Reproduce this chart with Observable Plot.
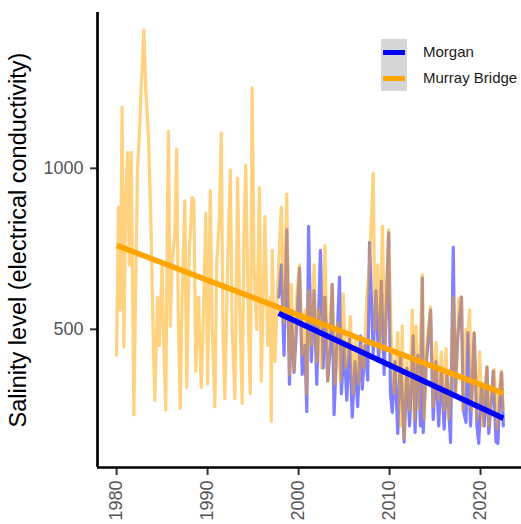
<!DOCTYPE html>
<html>
<head>
<meta charset="utf-8">
<script src="https://cdn.jsdelivr.net/npm/d3@7"></script>
<script src="https://cdn.jsdelivr.net/npm/@observablehq/plot@0.6"></script>
<style>
  html, body { margin: 0; padding: 0; background: #fff; }
  #wrap { position: relative; width: 521px; height: 524px; font-family: "Liberation Sans", Arial, sans-serif; }
  #legend { position: absolute; left: 381px; top: 39px; }
  .keybg { position: absolute; left: 0; top: 0; width: 26px; height: 52px; background: #d6d6d6; }
  .key { position: absolute; left: 2px; width: 22px; height: 5px; }
  .lab { position: absolute; left: 42px; font-size: 15px; color: #1a1a1a; white-space: nowrap; line-height: 15px; }
</style>
</head>
<body>
<div id="wrap">
  <div id="chart"></div>
  <div id="legend">
    <div class="keybg"></div>
    <div class="key" style="top:11px;background:#0000ff"></div>
    <div class="key" style="top:37px;background:#ffa500"></div>
    <div class="lab" style="top:5px">Morgan</div>
    <div class="lab" style="top:31px">Murray Bridge</div>
  </div>
</div>
<script>
// Series names
const seriesNames = ["Morgan", "Murray Bridge"];

// Murray Bridge observations (decimal year, EC)
const murrayYears = [
  1980.0,1980.2,1980.4,1980.6,1980.8,1981.0,1981.2,1981.4,1981.6,1981.9,
  1982.1,1982.3,1982.5,1982.7,1983.0,1983.2,1983.5,1983.8,1984.0,1984.2,
  1984.5,1984.7,1985.0,1985.2,1985.4,1985.6,1985.7,1985.9,1986.1,1986.4,
  1986.6,1986.8,1987.0,1987.2,1987.5,1987.7,1988.0,1988.3,1988.5,1988.7,
  1989.0,1989.3,1989.5,1989.8,1990.0,1990.3,1990.5,1990.8,1991.0,1991.3,
  1991.5,1991.7,1991.9,1992.2,1992.5,1992.7,1993.0,1993.3,1993.5,1993.8,
  1994.0,1994.2,1994.5,1994.7,1994.9,1995.1,1995.4,1995.7,1995.9,1996.3,
  1996.6,1996.9,1997.0,1997.1,1997.4,1997.8,1998.1,1998.4,1998.7,1999.0,
  1999.2,1999.5,1999.8,2000.1,2000.4,2000.7,2000.9,2001.1,2001.4,2001.7,
  2002.0,2002.2,2002.5,2002.9,2003.2,2003.5,2003.7,2004.0,2004.3,2004.6,
  2004.9,2005.2,2005.5,2005.7,2006.0,2006.3,2006.6,2006.9,2007.2,2007.5,
  2007.8,2008.2,2008.4,2008.7,2009.0,2009.2,2009.5,2009.9,2010.2,2010.5,
  2010.9,2011.2,2011.4,2011.6,2011.9,2012.2,2012.5,2012.7,2012.9,2013.2,
  2013.6,2013.8,2014.1,2014.5,2014.8,2015.1,2015.4,2015.7,2016.0,2016.2,
  2016.5,2016.8,2017.0,2017.3,2017.6,2017.9,2018.1,2018.4,2018.6,2018.8,
  2019.0,2019.3,2019.6,2019.9,2020.2,2020.5,2020.7,2020.9,2021.2,2021.5,
  2021.8,2022.0,2022.3,2022.5
];
const murrayValues = [
  420,880,560,1190,445,900,1050,700,1050,235,
  650,1000,1100,1250,1430,1250,1100,800,500,280,
  600,450,700,450,250,900,1115,510,700,800,
  1060,500,255,600,900,320,750,910,900,370,
  600,320,500,860,330,930,500,260,700,850,
  1110,480,285,700,995,500,285,970,600,270,
  800,1010,500,300,1250,700,500,940,340,850,
  450,600,215,745,400,700,880,520,920,360,
  640,370,600,700,420,560,300,620,450,700,
  400,560,380,760,340,560,640,330,520,340,
  610,380,450,540,300,470,330,450,380,600,
  700,985,500,700,430,820,450,810,450,300,
  490,200,510,160,400,250,560,220,510,250,
  670,220,450,570,260,460,280,430,250,440,
  220,350,600,300,595,600,250,500,490,560,
  250,490,220,430,200,330,385,200,300,375,
  190,300,370,250
];

// Morgan observations (decimal year, EC)
const morganYears = [
  1997.8,1998.1,1998.4,1998.7,1999.0,1999.2,1999.5,1999.8,2000.1,2000.4,
  2000.7,2000.9,2001.1,2001.4,2001.7,2002.0,2002.4,2002.7,2002.9,2003.2,
  2003.5,2003.7,2003.9,2004.2,2004.5,2004.7,2005.0,2005.3,2005.6,2005.9,
  2006.2,2006.5,2006.8,2007.0,2007.3,2007.6,2007.8,2008.2,2008.5,2008.8,
  2009.1,2009.4,2009.9,2010.1,2010.3,2010.6,2010.9,2011.2,2011.6,2011.9,
  2012.2,2012.6,2012.8,2013.1,2013.4,2013.6,2013.7,2014.0,2014.5,2014.8,
  2015.1,2015.4,2015.7,2016.0,2016.3,2016.7,2017.0,2017.2,2017.5,2017.9,
  2018.1,2018.4,2018.6,2018.9,2019.3,2019.6,2019.8,2020.1,2020.4,2020.7,
  2020.9,2021.2,2021.4,2021.7,2021.9,2022.1,2022.3,2022.5
];
const morganValues = [
  600,700,420,810,330,560,366,520,690,360,
  450,245,820,400,620,330,745,380,600,340,
  450,640,235,450,662,300,450,280,470,227,
  400,260,480,314,450,342,770,425,620,400,
  650,360,800,300,242,400,177,420,150,380,
  200,480,180,420,200,660,180,380,560,220,
  400,200,380,190,360,149,755,300,480,600,
  250,211,490,200,488,200,146,330,200,382,
  177,280,370,150,146,280,366,200
];

// Linear trend lines (endpoints)
const murrayFitYears = [1980, 2022.5];
const murrayFitValues = [761, 301];
const morganFitYears = [1997.8, 2022.5];
const morganFitValues = [550, 224];

// Axis ticks
const xTicks = [1980, 1990, 2000, 2010, 2020];
const yTicks = [500, 1000];
const yTitle = "Salinity level (electrical conductivity)";

const colors = {"Morgan": "#0000ff", "Murray Bridge": "#ffa500"};
const zip = (xs, ys, s) => xs.map((x, i) => ({year: x, value: ys[i], site: s}));
const murray = zip(murrayYears, murrayValues, seriesNames[1]);
const morgan = zip(morganYears, morganValues, seriesNames[0]);
const murrayFit = zip(murrayFitYears, murrayFitValues, seriesNames[1]);
const morganFit = zip(morganFitYears, morganFitValues, seriesNames[0]);

const xDomain = [1977.9, 2024.5];
const yDomain = [71, 1484];

const chart = Plot.plot({
  width: 521,
  height: 524,
  marginLeft: 97,
  marginRight: 0,
  marginTop: 12,
  marginBottom: 57,
  style: {fontFamily: '"Liberation Sans", Arial, sans-serif', background: "#fff"},
  x: {domain: xDomain},
  y: {domain: yDomain},
  marks: [
    Plot.line(morgan, {x: "year", y: "value", stroke: colors["Morgan"], strokeOpacity: 0.5, strokeWidth: 3.2}),
    Plot.line(murray, {x: "year", y: "value", stroke: colors["Murray Bridge"], strokeOpacity: 0.5, strokeWidth: 3.2}),
    Plot.line(morganFit, {x: "year", y: "value", stroke: colors["Morgan"], strokeWidth: 5.5, strokeLinecap: "butt"}),
    Plot.line(murrayFit, {x: "year", y: "value", stroke: colors["Murray Bridge"], strokeWidth: 5.5, strokeLinecap: "butt"}),
    Plot.axisY({ticks: yTicks, tickSize: 7, tickPadding: 7, tickFormat: d => String(d),
      fontSize: 18, color: "#555", stroke: "#333", strokeWidth: 2,
      label: yTitle, labelAnchor: "center", labelArrow: "none", labelOffset: 88}),
    Plot.axisX({ticks: xTicks, tickSize: 8, tickPadding: 5, tickFormat: d => String(d), tickRotate: -90,
      fontSize: 18, color: "#555", stroke: "#333", strokeWidth: 2, label: null}),
    Plot.ruleX([xDomain[0]], {stroke: "#000", strokeWidth: 2.7}),
    Plot.ruleY([yDomain[0]], {stroke: "#000", strokeWidth: 2.7})
  ]
});
document.getElementById("chart").appendChild(chart);
// style the axis title
chart.querySelectorAll('g[aria-label="y-axis label"] text').forEach(t => {
  t.setAttribute("fill", "#000");
  t.style.fontSize = "23.5px";
});
</script>
</body>
</html>
